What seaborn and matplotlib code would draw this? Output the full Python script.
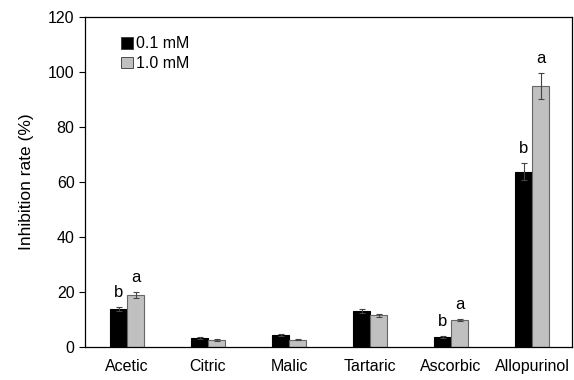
import numpy as np
import pandas as pd
import seaborn as sns
import matplotlib.pyplot as plt

# Values
acids = ["Acetic", "Citric", "Malic", "Tartaric", "Ascorbic", "Allopurinol"]
conc_levels = ["0.1 mM", "1.0 mM"]
rate_low = [13.8, 3.3, 4.2, 13.1, 3.7, 63.8]
rate_high = [18.9, 2.5, 2.7, 11.5, 9.8, 94.9]
err_low = [0.8, 0.3, 0.4, 0.7, 0.3, 3.2]
err_high = [1.0, 0.3, 0.3, 0.6, 0.4, 4.8]
letters_low = ["b", "", "", "", "b", "b"]
letters_high = ["a", "", "", "", "a", "a"]

df = pd.DataFrame({
    "acid": acids * 2,
    "conc": [conc_levels[0]] * len(acids) + [conc_levels[1]] * len(acids),
    "rate": rate_low + rate_high,
})

sns.set_style("ticks")
plt.rcParams["font.family"] = ["Liberation Sans", "DejaVu Sans"]
plt.rcParams["text.color"] = "black"
plt.rcParams["axes.labelcolor"] = "black"
plt.rcParams["xtick.color"] = "black"
plt.rcParams["ytick.color"] = "black"

fig, ax = plt.subplots(figsize=(5.74, 3.8), dpi=100)
fig.subplots_adjust(left=0.148, right=0.996, bottom=0.087, top=0.955)

sns.barplot(data=df, x="acid", y="rate", hue="conc", hue_order=conc_levels,
            palette=["#000000", "#c0c0c0"], width=0.42, errorbar=None,
            saturation=1, ax=ax)

edge_colors = ["#000000", "#666666"]
errs = [err_low, err_high]
vals = [rate_low, rate_high]
letters = [letters_low, letters_high]
bar_groups = list(ax.containers)
for k, cont in enumerate(bar_groups):
    xs = []
    for bar in cont:
        bar.set_edgecolor(edge_colors[k])
        bar.set_linewidth(0.8)
        xs.append(bar.get_x() + bar.get_width() / 2)
    ax.errorbar(xs, vals[k], yerr=errs[k], fmt="none", ecolor="#444444",
                elinewidth=0.8, capsize=2.5, capthick=0.8)
    for x, v, e, t in zip(xs, vals[k], errs[k], letters[k]):
        if t:
            ax.text(x, v + e + 2.5, t, ha="center", va="bottom", fontsize=12)

ax.set_ylim(0, 120)
ax.set_yticks(np.arange(0, 121, 20))
ax.set_xlim(-0.52, 5.49)
ax.set_xlabel("")
ax.set_ylabel("Inhibition rate (%)", fontsize=12.5, labelpad=10)
ax.tick_params(axis="y", direction="out", length=4, width=0.8, labelsize=11.5)
ax.tick_params(axis="x", length=0, labelsize=11.5, pad=9)
for s in ax.spines.values():
    s.set_linewidth(0.9)
    s.set_color("black")

ax.legend(loc="upper left", bbox_to_anchor=(0.045, 0.985), frameon=False,
          fontsize=11.5, handlelength=0.75, handleheight=0.75,
          handletextpad=0.2, labelspacing=0.3, title=None)
for h in ax.get_legend().legend_handles:
    h.set_edgecolor("#333333")
    h.set_linewidth(0.6)

fig.savefig("out.png", dpi=100)
